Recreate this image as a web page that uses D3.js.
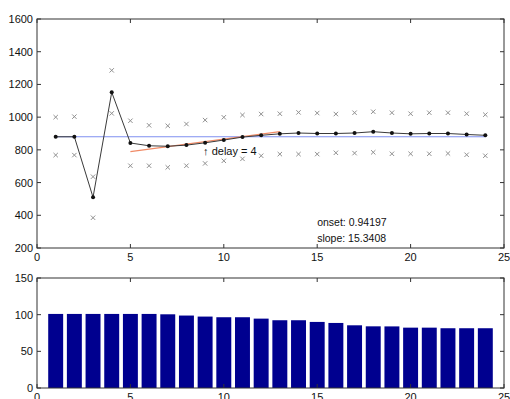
<!DOCTYPE html>
<html>
<head>
<meta charset="utf-8">
<script src="https://cdn.jsdelivr.net/npm/d3@7"></script>
<style>
  html, body { margin: 0; padding: 0; background: #fff; }
  svg { display: block; font-family: "Liberation Sans", Arial, sans-serif; }
</style>
</head>
<body>
<svg id="chart" width="510" height="399"></svg>
<script>
// Trial index 1..24
const trials = d3.range(1, 25);

// Mean response per trial
const meanValues = [880, 880, 510, 1152, 842, 825, 822, 829, 843, 860, 878, 889,
                    898, 903, 900, 900, 903, 911, 903, 898, 900, 900, 894, 889];
// Upper and lower bounds per trial
const upperValues = [1000, 1003, 636, 1286, 978, 950, 947, 958, 982, 999, 1013, 1019,
                     1021, 1029, 1025, 1019, 1027, 1033, 1027, 1021, 1027, 1027, 1021, 1015];
const lowerValues = [768, 768, 385, 1023, 703, 703, 693, 703, 717, 733, 745, 764,
                     774, 774, 774, 782, 780, 785, 776, 776, 776, 778, 770, 764];

// Baseline level and linear fit over the adaptation phase
const baselineLevel = 880;
const fitStart = 5, fitEnd = 13;
const fitSlope = 15.3408;
const fitAtStart = 789;
const delay = 4;
const onset = 0.94197;

// Bar values for the lower panel
const barValues = [101, 101, 101, 101, 101, 101, 100.5, 98.8, 97.4, 96.5, 96.5, 94.6,
                   92.4, 92.4, 90.1, 88.7, 85.5, 84.1, 84, 82.3, 82.3, 81.5, 81.5, 81.5];

// Tick labels
const xTicks = [0, 5, 10, 15, 20, 25];
const yTicksTop = [200, 400, 600, 800, 1000, 1200, 1400, 1600];
const yTicksBottom = [0, 50, 100, 150];

const svg = d3.select("#chart");
const left = 37, right = 504;

const x = d3.scaleLinear().domain([0, 25]).range([left, right]);
const yTop = d3.scaleLinear().domain([200, 1600]).range([248, 19]);
const yBot = d3.scaleLinear().domain([0, 150]).range([388, 278]);

const axisColor = "#333";
const tickLen = 4;

function frame(y, yTicks) {
  const g = svg.append("g");
  const [y0, y1] = y.range();
  // x ticks bottom and top (inward)
  xTicks.forEach(t => {
    g.append("line").attr("x1", x(t)).attr("x2", x(t)).attr("y1", y0).attr("y2", y0 - tickLen)
      .attr("stroke", axisColor);
    g.append("line").attr("x1", x(t)).attr("x2", x(t)).attr("y1", y1).attr("y2", y1 + tickLen)
      .attr("stroke", axisColor);
    g.append("text").attr("x", x(t)).attr("y", y0 + 9).attr("text-anchor", "middle")
      .attr("dominant-baseline", "central").attr("font-size", 11).attr("fill", "#111").text(t);
  });
  yTicks.forEach(t => {
    g.append("line").attr("x1", left).attr("x2", left + tickLen).attr("y1", y(t)).attr("y2", y(t))
      .attr("stroke", axisColor);
    g.append("line").attr("x1", right).attr("x2", right - tickLen).attr("y1", y(t)).attr("y2", y(t))
      .attr("stroke", axisColor);
    g.append("text").attr("x", left - 4).attr("y", y(t)).attr("text-anchor", "end")
      .attr("dominant-baseline", "central").attr("font-size", 11).attr("fill", "#111").text(t);
  });
  g.append("rect").attr("x", left).attr("y", y1).attr("width", right - left).attr("height", y0 - y1)
    .attr("fill", "none").attr("stroke", axisColor).attr("stroke-width", 1);
}

// ---- Top panel ----
svg.append("rect").attr("x", left).attr("y", 19).attr("width", right - left).attr("height", 229)
  .attr("fill", "#fff");

// Baseline
svg.append("line")
  .attr("x1", x(trials[0])).attr("x2", x(trials[trials.length - 1]))
  .attr("y1", yTop(baselineLevel)).attr("y2", yTop(baselineLevel))
  .attr("stroke", "#7f8ff0").attr("stroke-width", 1.2);

// Bound markers
function crosses(values) {
  const s = 2.2;
  const g = svg.append("g").attr("stroke", "#909090").attr("stroke-width", 1);
  values.forEach((v, i) => {
    const cx = x(trials[i]), cy = yTop(v);
    g.append("line").attr("x1", cx - s).attr("x2", cx + s).attr("y1", cy - s).attr("y2", cy + s);
    g.append("line").attr("x1", cx - s).attr("x2", cx + s).attr("y1", cy + s).attr("y2", cy - s);
  });
}
crosses(upperValues);
crosses(lowerValues);

// Linear fit
svg.append("line")
  .attr("x1", x(fitStart)).attr("y1", yTop(fitAtStart))
  .attr("x2", x(fitEnd)).attr("y2", yTop(fitAtStart + fitSlope * (fitEnd - fitStart)))
  .attr("stroke", "#f08a66").attr("stroke-width", 1.2);

// Mean line with markers
const line = d3.line().x((d, i) => x(trials[i])).y(d => yTop(d));
svg.append("path").datum(meanValues).attr("d", line)
  .attr("fill", "none").attr("stroke", "#3a3a3a").attr("stroke-width", 1);
svg.append("g").selectAll("circle").data(meanValues).join("circle")
  .attr("cx", (d, i) => x(trials[i])).attr("cy", d => yTop(d)).attr("r", 2)
  .attr("fill", "#111");

// Annotations
svg.append("text").attr("x", x(fitStart + delay) - 2).attr("y", yTop(790))
  .attr("dominant-baseline", "central").attr("font-size", 11).attr("fill", "#111")
  .text("\u2191 delay = " + delay);
svg.append("text").attr("x", x(15)).attr("y", yTop(358))
  .attr("dominant-baseline", "central").attr("font-size", 10.5).attr("fill", "#111")
  .text("onset: " + onset);
svg.append("text").attr("x", x(15)).attr("y", yTop(262))
  .attr("dominant-baseline", "central").attr("font-size", 10.5).attr("fill", "#111")
  .text("slope: " + fitSlope);

frame(yTop, yTicksTop);

// ---- Bottom panel ----
const barW = (x(1) - x(0)) * 0.8;
svg.append("g").selectAll("rect").data(barValues).join("rect")
  .attr("x", (d, i) => x(trials[i]) - barW / 2)
  .attr("y", d => yBot(d))
  .attr("width", barW)
  .attr("height", d => yBot(0) - yBot(d))
  .attr("fill", "#00008f");

frame(yBot, yTicksBottom);
</script>
</body>
</html>
